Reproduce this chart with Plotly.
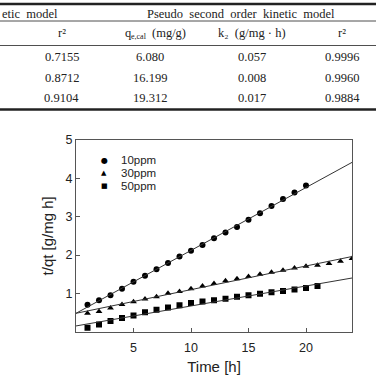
import plotly.graph_objects as go

# ---------------- data ----------------
time_10 = list(range(1, 21))
tqt_10 = [0.70, 0.82, 0.95, 1.12, 1.30, 1.46, 1.63, 1.79, 1.96, 2.11,
          2.26, 2.44, 2.59, 2.73, 2.92, 3.09, 3.28, 3.46, 3.63, 3.81]
time_30 = list(range(1, 25))
tqt_30 = [0.48, 0.53, 0.62, 0.71, 0.78, 0.85, 0.91, 1.00, 1.05, 1.12,
          1.19, 1.26, 1.33, 1.38, 1.44, 1.50, 1.55, 1.60, 1.66, 1.71,
          1.73, 1.78, 1.84, 1.91]
time_50 = list(range(1, 22))
tqt_50 = [0.10, 0.19, 0.28, 0.36, 0.42, 0.51, 0.57, 0.63, 0.69, 0.75,
          0.79, 0.82, 0.86, 0.91, 0.95, 0.99, 1.03, 1.06, 1.10, 1.14, 1.19]
series_names = ["10ppm", "30ppm", "50ppm"]
legend_glyphs = ["\u25cf", "\u25b2", "\u25a0"]
fit_intercept = [0.48, 0.48, 0.15]
fit_slope = [0.164, 0.0617, 0.0521]
fit_x = [0, 24]

x_ticks = [5, 10, 15, 20]
y_ticks = [1, 2, 3, 4, 5]

# table (cropped from a larger table)
tbl_group1 = "etic\u00a0\u00a0model"
tbl_group2 = "Pseudo\u00a0\u00a0second\u00a0\u00a0order\u00a0\u00a0kinetic\u00a0\u00a0model"
hdr_r2 = "r\u00b2"
hdr_q = "q"
hdr_q_sub = "e,cal"
hdr_q_unit = "(mg/g)"
hdr_k2 = "k\u2082\u00a0\u00a0(g/mg\u00a0\u00b7\u00a0h)"
col_r2_first = ["0.7155", "0.8712", "0.9104"]
col_qe = ["6.080", "16.199", "19.312"]
col_k2 = ["0.057", "0.008", "0.017"]
col_r2_second = ["0.9996", "0.9960", "0.9884"]

# ---------------- figure ----------------
W, H = 376, 375
PL, PR, PT, PB = 76, 352, 140, 331.7   # plot frame in pixels


def px(x):
    return x / W


def py(y):
    return 1 - y / H


fig = go.Figure()
symbols = ["circle", "triangle-up", "square"]
xs = [time_10, time_30, time_50]
ys = [tqt_10, tqt_30, tqt_50]
for i in range(3):
    fig.add_trace(go.Scatter(
        x=xs[i], y=ys[i], mode="markers", name=series_names[i],
        marker=dict(symbol=symbols[i], size=6, color="black"), showlegend=False,
    ))
for i in range(3):
    fig.add_trace(go.Scatter(
        x=fit_x, y=[fit_intercept[i] + fit_slope[i] * v for v in fit_x],
        mode="lines", line=dict(color="#333333", width=1), showlegend=False,
    ))

sans = "Liberation Sans, Arial"
axis_common = dict(showgrid=False, zeroline=False, showline=True, mirror=True,
                   linecolor="#555555", linewidth=1, ticks="inside", ticklen=4,
                   tickcolor="#555555", automargin=False,
                   tickfont=dict(family=sans, size=12.5, color="#222222"))
fig.update_xaxes(range=[0, 24], tickvals=x_ticks, ticklabelstandoff=4,
                 domain=[px(PL), px(PR)],
                 title=dict(text="Time [h]", standoff=10,
                            font=dict(family=sans, size=15, color="#222222")),
                 **axis_common)
fig.update_yaxes(range=[0, 5], tickvals=y_ticks,
                 domain=[py(PB), py(PT)],
                 title=dict(text="t/qt [g/mg h]", standoff=8,
                            font=dict(family=sans, size=15, color="#222222")),
                 **axis_common)

# ---- table ----
serif_family = "Liberation Serif, Times New Roman"
serif = dict(family=serif_family, size=12.5, color="#222222")
serif_small = dict(family=serif_family, size=8, color="#222222")
ann = []
ann.append(dict(text=tbl_group1, x=px(0), y=py(14), xanchor="left", font=serif))
ann.append(dict(text=tbl_group2, x=px(241), y=py(14), xanchor="center", font=serif))
ann.append(dict(text=hdr_r2, x=px(62), y=py(33), xanchor="center", font=serif))
ann.append(dict(text=hdr_q, x=px(123), y=py(33), xanchor="left", font=serif))
ann.append(dict(text=hdr_q_sub, x=px(128.5), y=py(36.5), xanchor="left", font=serif_small))
ann.append(dict(text=hdr_q_unit, x=px(150), y=py(33), xanchor="left", font=serif))
ann.append(dict(text=hdr_k2, x=px(252), y=py(33), xanchor="center", font=serif))
ann.append(dict(text=hdr_r2, x=px(342), y=py(33), xanchor="center", font=serif))
row_y = [56.5, 77.5, 98.5]
data_cols = [col_r2_first, col_qe, col_k2, col_r2_second]
data_x = [62, 150, 252, 342]
for cx, col in zip(data_x, data_cols):
    for ry, v in zip(row_y, col):
        ann.append(dict(text=v, x=px(cx), y=py(ry), xanchor="center", font=serif))

# ---- compact legend inside the plot ----
leg_y = [160, 173, 186]
glyph_sizes = [8, 7, 7]
for name, g, gs, ly in zip(series_names, legend_glyphs, glyph_sizes, leg_y):
    ann.append(dict(text=g, x=px(104), y=py(ly), xanchor="center",
                    font=dict(family="DejaVu Sans", size=gs, color="black")))
    ann.append(dict(text=name, x=px(119), y=py(ly), xanchor="left",
                    font=dict(family=sans, size=11.5, color="#222222")))

for a in ann:
    a.update(xref="paper", yref="paper", yanchor="middle", showarrow=False)

shapes = []
for ly, lw in [(4, 2.5), (21, 0.8), (45.5, 0.8), (109.5, 2.5)]:
    shapes.append(dict(type="line", xref="paper", yref="paper",
                       x0=0, x1=1, y0=py(ly), y1=py(ly),
                       line=dict(color="#222222", width=lw)))

fig.update_layout(
    width=W, height=H, autosize=False,
    margin=dict(l=0, r=0, t=0, b=0, pad=0),
    paper_bgcolor="white", plot_bgcolor="white",
    annotations=ann, shapes=shapes, showlegend=False,
)

fig.write_html("out.html")
